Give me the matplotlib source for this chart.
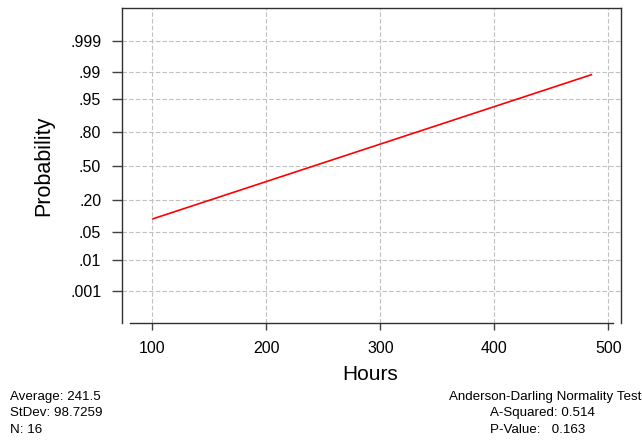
import matplotlib
matplotlib.use("Agg")
import matplotlib.pyplot as plt
from statistics import NormalDist

# probability scale ticks
prob_ticks = [0.001, 0.01, 0.05, 0.20, 0.50, 0.80, 0.95, 0.99, 0.999]
prob_labels = [".001", ".01", ".05", ".20", ".50", ".80", ".95", ".99", ".999"]
x_ticks = [100, 200, 300, 400, 500]

# fitted line
line_hours = [100.6, 485.0]
line_prob = [0.095, 0.988]

left_stats = ["Average: 241.5", "StDev: 98.7259", "N: 16"]
right_stats = ["A-Squared: 0.514", "P-Value:   0.163"]

nd = NormalDist()
z = lambda p: nd.inv_cdf(p)

plt.rcParams["font.family"] = ["Liberation Sans", "DejaVu Sans"]

fig = plt.figure(figsize=(6.42, 4.43), dpi=100)
ax = fig.add_axes([0.190, 0.271, 0.777, 0.711])

ax.plot(line_hours, [z(p) for p in line_prob], color="red", lw=1.2)

ax.set_xlim(73.4, 510.8)
ax.set_ylim(-3.89, 3.91)
ax.set_xticks(x_ticks)
ax.set_yticks([z(p) for p in prob_ticks])
ax.set_yticklabels(prob_labels)
ax.grid(True, color="#c0c0c0", ls=(0, (4, 2)), lw=0.8)

ax.tick_params(axis="y", length=7, width=1, color="#404040", labelsize=11.5, pad=8)
ax.tick_params(axis="x", length=5, width=1, color="#404040", labelsize=11.5, pad=8)
for s in ax.spines.values():
    s.set_color("#303030")
    s.set_linewidth(1.0)
ax.spines["bottom"].set_bounds(80.5, 503.9)

ax.set_xlabel("Hours", fontsize=15, va="center")
ax.xaxis.set_label_coords(0.497, -0.165)
ax.set_ylabel("Probability", fontsize=15.5, va="center")
ax.yaxis.set_label_coords(-0.156, 0.5)

fs = 9.6
ys = [397, 413, 430]
for t, yy in zip(left_stats, ys):
    fig.text(10 / 642, 1 - yy / 443, t, fontsize=fs, va="center", ha="left")
fig.text(641 / 642, 1 - ys[0] / 443, "Anderson-Darling Normality Test",
         fontsize=fs, va="center", ha="right")
for t, yy in zip(right_stats, ys[1:]):
    fig.text(490 / 642, 1 - yy / 443, t, fontsize=fs, va="center", ha="left")

fig.savefig("out.png", dpi=100)
